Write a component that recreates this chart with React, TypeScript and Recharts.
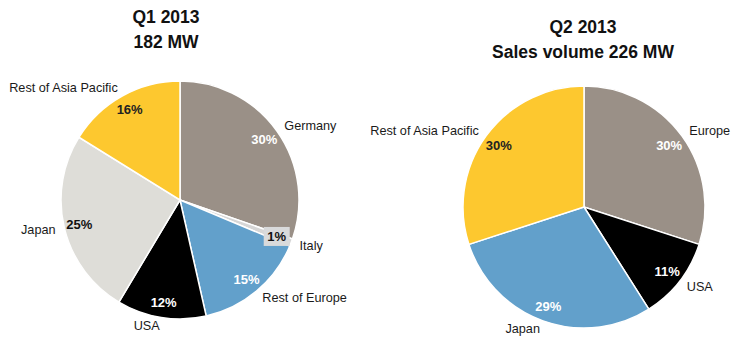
import { PieChart, Pie, Cell } from "recharts";

// Q1 2013 – 182 MW
const q1Names = ["Germany", "Italy", "Rest of Europe", "USA", "Japan", "Rest of Asia Pacific"];
const q1Shares = [30, 1, 15, 12, 25, 16];

// Q2 2013 – Sales volume 226 MW
const q2Names = ["Europe", "USA", "Japan", "Rest of Asia Pacific"];
const q2Shares = [30, 11, 29, 30];

const q1Colors = ["#9A9087", "#D6D6D6", "#62A0CB", "#000000", "#DEDDD8", "#FDC82F"];
const q1TextColors = ["#ffffff", "#111111", "#ffffff", "#ffffff", "#111111", "#222222"];
const q2Colors = ["#9A9087", "#000000", "#62A0CB", "#FDC82F"];
const q2TextColors = ["#ffffff", "#ffffff", "#ffffff", "#222222"];

const q1Data = q1Names.map((name, i) => ({ name, value: q1Shares[i] }));
const q2Data = q2Names.map((name, i) => ({ name, value: q2Shares[i] }));

const RAD = Math.PI / 180;
const font = "'Liberation Sans', Arial, sans-serif";

function makeLabel(textColors: string[], boxed: string[]) {
  return (props: any) => {
    const { cx, cy, midAngle, outerRadius, index, name, value } = props;
    const cos = Math.cos(-midAngle * RAD);
    const sin = Math.sin(-midAngle * RAD);
    const pr = outerRadius * 0.87;
    const px = cx + pr * cos;
    const py = cy + pr * sin;
    const nr = outerRadius + 9;
    const nx = cx + nr * cos;
    const ny = cy + nr * sin;
    const anchor = cos >= 0 ? "start" : "end";
    const isBoxed = boxed.includes(name);
    return (
      <g>
        {isBoxed && <rect x={px - 13} y={py - 10} width={26} height={19} fill="#D9DADB" />}
        <text
          x={px}
          y={py}
          textAnchor="middle"
          dominantBaseline="central"
          fill={textColors[index]}
          fontSize={13}
          fontWeight="bold"
          fontFamily={font}
        >
          {`${value}%`}
        </text>
        <text
          x={nx}
          y={ny}
          textAnchor={anchor}
          dominantBaseline="central"
          fill="#1a1a1a"
          fontSize={12.7}
          fontFamily={font}
        >
          {name}
        </text>
      </g>
    );
  };
}

const titleStyle: React.CSSProperties = {
  position: "absolute",
  fontFamily: font,
  fontWeight: "bold",
  fontSize: 17.5,
  color: "#111",
  textAlign: "center",
  lineHeight: "25px",
  width: 300,
};

export default function App() {
  return (
    <div style={{ position: "absolute", left: 0, top: 0, width: 752, height: 353, background: "#fff" }}>
      <PieChart width={752} height={353} margin={{ top: 0, right: 0, bottom: 0, left: 0 }}>
        <Pie
          data={q1Data}
          dataKey="value"
          nameKey="name"
          cx={180}
          cy={200}
          outerRadius={119}
          startAngle={90}
          endAngle={-270}
          stroke="#ffffff"
          strokeWidth={1.5}
          labelLine={false}
          label={makeLabel(q1TextColors, ["Italy"])}
          isAnimationActive={false}
        >
          {q1Data.map((d, i) => (
            <Cell key={d.name} fill={q1Colors[i]} />
          ))}
        </Pie>
        <Pie
          data={q2Data}
          dataKey="value"
          nameKey="name"
          cx={584}
          cy={207}
          outerRadius={121}
          startAngle={90}
          endAngle={-270}
          stroke="#ffffff"
          strokeWidth={1.5}
          labelLine={false}
          label={makeLabel(q2TextColors, [])}
          isAnimationActive={false}
        >
          {q2Data.map((d, i) => (
            <Cell key={d.name} fill={q2Colors[i]} />
          ))}
        </Pie>
      </PieChart>
      <div style={{ ...titleStyle, left: 166 - 150, top: 5 }}>
        Q1 2013
        <br />
        182 MW
      </div>
      <div style={{ ...titleStyle, left: 583 - 150, top: 15 }}>
        Q2 2013
        <br />
        Sales volume 226 MW
      </div>
    </div>
  );
}
